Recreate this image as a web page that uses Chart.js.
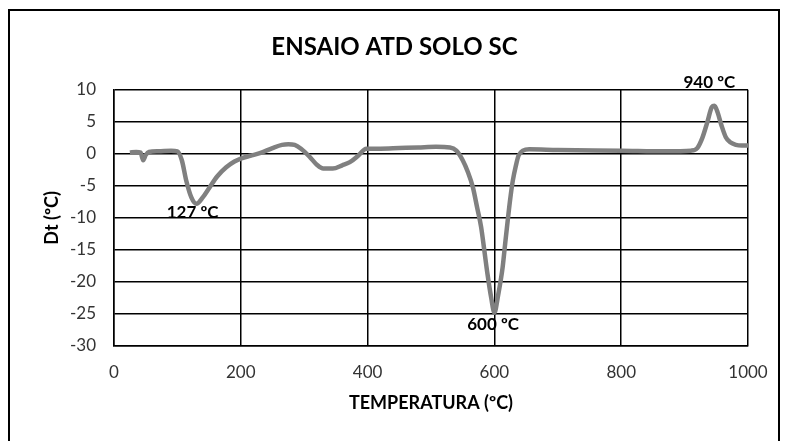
<!DOCTYPE html>
<html>
<head>
<meta charset="utf-8">
<script src="https://cdn.jsdelivr.net/npm/chart.js@4"></script>
<style>
  body{margin:0;background:#fff;}
  #wrap{position:relative;width:786px;height:441px;overflow:hidden;}
  #frame{position:absolute;left:8px;top:9px;width:772px;height:440px;border:2px solid #000;box-sizing:border-box;}
  canvas{position:absolute;left:0;top:0;}
</style>
</head>
<body>
<div id="wrap">
  <div id="frame"></div>
  <canvas id="chart" width="786" height="441"></canvas>
</div>
<script>
// temperatura (ºC) and Dt (ºC)
const temps = [25,35,42,46,50,55,70,90,100,107,114,122,130,140,151,163,177,190,201,215,230,250,265,275,285,295,309,320,330,345,360,372,385,398,420,450,480,508,530,540,550,558,566,573,579,584,589,595,600,606,613,617,621,625,629,634,638,645,655,700,800,870,910,920,928,936,943,947,952,958,965,972,981,990,1000];
const dt    = [0.2,0.3,0.2,-1.0,-0.2,0.3,0.4,0.5,0.4,-1.0,-4.2,-6.8,-7.8,-6.8,-5.2,-3.5,-2.1,-1.2,-0.7,-0.3,0.1,0.9,1.4,1.5,1.4,0.8,-0.5,-1.7,-2.3,-2.3,-1.8,-1.3,-0.3,0.8,0.8,0.9,1.0,1.1,1.0,0.5,-1.0,-2.8,-5.2,-8.5,-11.4,-15,-18.7,-22.5,-24.8,-22,-17.7,-14,-10.4,-7,-4.2,-1.8,-0.3,0.5,0.7,0.6,0.5,0.4,0.5,0.9,2.5,5.0,7.3,7.5,6.5,4.5,2.6,1.8,1.4,1.3,1.3];

// peak labels
const peakText = ['127 ºC','600 ºC','940 ºC'];
const peakX    = [124, 598, 939];
const peakY    = [-9.1, -26.7, 11.2];

const FONT = 'Lato, "Open Sans", sans-serif';

const peakLabels = {
  id:'peakLabels',
  afterDatasetsDraw(chart){
    const {ctx, scales:{x, y}} = chart;
    ctx.save();
    ctx.font = 'bold 17px ' + FONT;
    ctx.fillStyle = '#000';
    ctx.textAlign = 'center';
    ctx.textBaseline = 'middle';
    peakText.forEach((t,i)=> ctx.fillText(t, x.getPixelForValue(peakX[i]), y.getPixelForValue(peakY[i])));
    ctx.restore();
  }
};

new Chart(document.getElementById('chart'), {
  type:'line',
  data:{
    datasets:[{
      data: temps.map((t,i)=>({x:t, y:dt[i]})),
      borderColor:'#808080',
      borderWidth:4.5,
      pointRadius:0,
      cubicInterpolationMode:'monotone',
      fill:false
    }]
  },
  options:{
    responsive:false,
    animation:false,
    layout:{ padding:{left:41, right:38, top:12, bottom:27} },
    plugins:{
      legend:{display:false},
      tooltip:{enabled:false},
      title:{
        display:true,
        text:'ENSAIO ATD SOLO SC',
        color:'#000',
        font:{family:FONT, size:24, weight:'bold'},
        padding:{top:21, bottom:28}
      }
    },
    scales:{
      x:{
        type:'linear', min:0, max:1000,
        afterFit:s=>{ s.height = 68; },
        ticks:{stepSize:200, color:'#333', font:{family:FONT, size:17}, padding:16, callback:v=>String(v)},
        grid:{color:'#000', lineWidth:1.5, drawTicks:false},
        border:{color:'#000', width:1.5},
        title:{display:true, text:'TEMPERATURA (ºC)', color:'#000', font:{family:FONT, size:18, weight:'bold'}, padding:{top:10, bottom:0}}
      },
      y:{
        min:-30, max:10,
        afterFit:s=>{ s.width = 73; },
        ticks:{stepSize:5, color:'#333', font:{family:FONT, size:17}, padding:18},
        grid:{color:'#000', lineWidth:1.5, drawTicks:false},
        border:{color:'#000', width:1.5},
        title:{display:true, text:'Dt (ºC)', color:'#000', font:{family:FONT, size:18, weight:'bold'}, padding:{top:0, bottom:7}}
      }
    }
  },
  plugins:[peakLabels]
});
</script>
</body>
</html>
